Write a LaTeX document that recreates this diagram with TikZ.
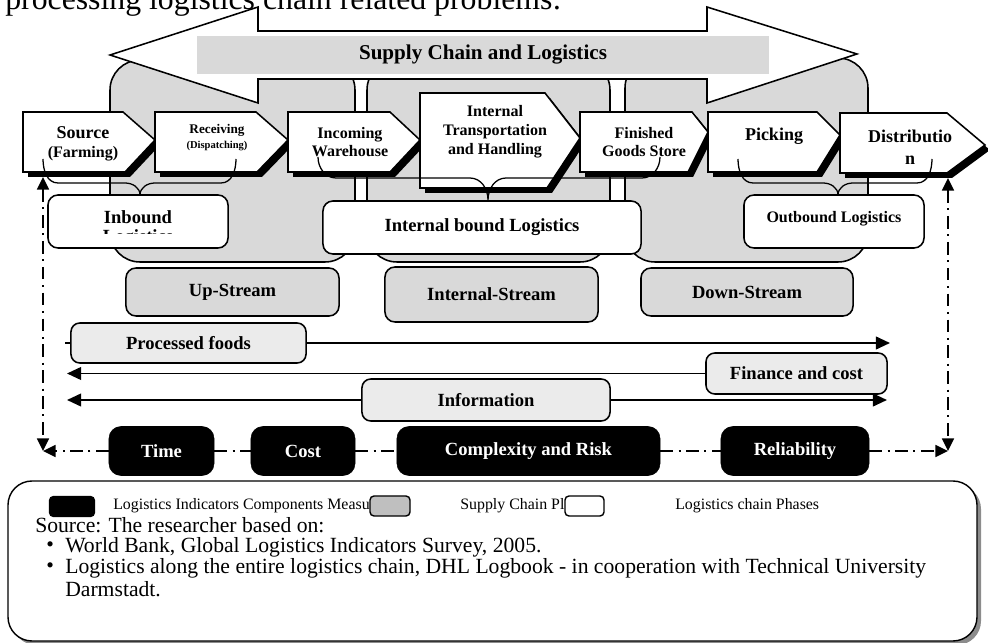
\documentclass[tikz,border=0pt]{standalone}
\usepackage{fontspec}
\setmainfont{Liberation Serif}
\usetikzlibrary{arrows.meta}

\begin{document}
\begin{tikzpicture}[x=0.025cm, y=-0.025cm,
  region/.style={fill=black!15, draw=black, line width=1.1pt, rounded corners=0.75cm},
  phase/.style={fill=white, draw=black, line width=1.1pt, line join=miter},
  phaseshadow/.style={fill=black},
  phasetext/.style={align=center, inner sep=0pt, font=\fontsize{11.4}{12.8}\selectfont\bfseries},
  brace/.style={line width=0.9pt},
  logbox/.style={draw=black, fill=white, line width=1.1pt, rounded corners=0.25cm, minimum height=1.325cm, font=\fontsize{13.2}{15}\selectfont\bfseries},
  streambox/.style={draw=black, fill=black!15, line width=1.1pt, rounded corners=0.25cm, minimum height=1.2cm, font=\fontsize{13.2}{15}\selectfont\bfseries},
  flowbox/.style={draw=black, fill=black!8, line width=1.1pt, rounded corners=0.22cm, minimum height=1.0cm, font=\fontsize{13.2}{15}\selectfont\bfseries},
  flow/.style={line width=1.4pt},
  indbox/.style={fill=black, draw=black, rounded corners=0.3cm, minimum height=1.225cm, text=white, font=\fontsize{13.2}{15}\selectfont\bfseries},
  indline/.style={line width=1.3pt, dash pattern=on 9pt off 4pt on 1.4pt off 4pt},
  legendtext/.style={anchor=west, inner sep=0pt, font=\fontsize{11.3}{13}\selectfont},
  sourcetext/.style={anchor=west, inner sep=0pt, font=\fontsize{15.4}{18}\selectfont},
  >={Triangle[length=10pt,width=9pt]}
]

\useasboundingbox (0,0) rectangle (988,643);
\clip (0,0) rectangle (988,643);

% text line above the picture, cut at the top
\node[anchor=base west, inner sep=0pt, font=\fontsize{22.6}{26}\selectfont] (toptext) at (5,10) {processing logistics chain related problems:};

% grey stream areas
\draw[region] (110,60) rectangle (355,262);
\draw[region] (367,60) rectangle (610,262);
\draw[region] (625,58) rectangle (868,262);

% double arrow of the whole chain
\draw[fill=white, line width=1.1pt, line join=miter] (110,55) -- (258,7) -- (258,31) -- (707,31) -- (707,7) -- (857,54) -- (707,103) -- (707,79) -- (258,79) -- (258,103) -- cycle;
\node[fill=black!15, minimum width=14.3cm, minimum height=0.95cm, font=\fontsize{15}{18}\selectfont\bfseries] (title) at (483,55) {Supply Chain and Logistics};

% logistics chain phases
\fill[phaseshadow, shift={(5,5)}] (23,112) -- (123,112) -- (155,140) -- (125,172) -- (23,172) -- cycle;
\draw[phase] (23,112) -- (123,112) -- (155,140) -- (125,172) -- (23,172) -- cycle;
\fill[phaseshadow, shift={(5,5)}] (155,112) -- (256,112) -- (288,140) -- (257,172) -- (155,172) -- cycle;
\draw[phase] (155,112) -- (256,112) -- (288,140) -- (257,172) -- (155,172) -- cycle;
\fill[phaseshadow, shift={(5,5)}] (288,112) -- (390,112) -- (420,140) -- (390,172) -- (288,172) -- cycle;
\draw[phase] (288,112) -- (390,112) -- (420,140) -- (390,172) -- (288,172) -- cycle;
\fill[phaseshadow, shift={(5,5)}] (420,93) -- (545,93) -- (580,138) -- (547,188) -- (420,188) -- cycle;
\draw[phase] (420,93) -- (545,93) -- (580,138) -- (547,188) -- (420,188) -- cycle;
\fill[phaseshadow, shift={(5,5)}] (580,112) -- (692,112) -- (708,132) -- (688,172) -- (580,172) -- cycle;
\draw[phase] (580,112) -- (692,112) -- (708,132) -- (688,172) -- (580,172) -- cycle;
\fill[phaseshadow, shift={(5,5)}] (708,112) -- (817,112) -- (840,135) -- (817,172) -- (708,172) -- cycle;
\draw[phase] (708,112) -- (817,112) -- (840,135) -- (817,172) -- (708,172) -- cycle;
\fill[phaseshadow, shift={(5,5)}] (840,113) -- (947,113) -- (985,145) -- (947,173) -- (840,173) -- cycle;
\draw[phase] (840,113) -- (947,113) -- (985,145) -- (947,173) -- (840,173) -- cycle;

\node[phasetext, font=\fontsize{12.8}{13.5}\selectfont\bfseries] (source) at (83,144) {Source\\{\fontsize{11.4}{13.5}\selectfont(Farming)}};
\node[phasetext, font=\fontsize{9.4}{10.7}\selectfont\bfseries] (receiving) at (217,138) {Receiving\\{\fontsize{7.5}{10.7}\selectfont(Dispatching)}};
\node[phasetext] (incoming) at (350,142) {Incoming\\Warehouse};
\node[phasetext, font=\fontsize{11.4}{13.5}\selectfont\bfseries] (transport) at (495,132) {Internal\\Transportation\\and Handling};
\node[phasetext] (finished) at (644,142) {Finished\\Goods Store};
\node[phasetext, font=\fontsize{12.8}{15}\selectfont\bfseries] (picking) at (774,136) {Picking};
\node[phasetext, font=\fontsize{12.8}{15.5}\selectfont\bfseries] (distribution) at (910,147) {Distributio\\n};

% braces from the phases to the logistics boxes
\draw[brace] (43,159) to[out=-90,in=180] (58,183) -- (125,183) to[out=0,in=90] (140,195) to[out=90,in=180] (155,183) -- (221,183) to[out=0,in=-90] (236,159);
\draw[brace] (318,157) to[out=-90,in=180] (336,178) -- (470,178) to[out=0,in=90] (488,200) to[out=90,in=180] (506,178) -- (642,178) to[out=0,in=-90] (660,157);
\draw[brace] (738,159) to[out=-90,in=180] (753,183) -- (823,183) to[out=0,in=90] (838,195) to[out=90,in=180] (853,183) -- (917,183) to[out=0,in=-90] (932,159);

% logistics boxes
\node[logbox, minimum width=4.5cm] (inbound) at (138,221.5) {};
\begin{scope}
\clip (50,197) rectangle (226,234);
\node[align=center, font=\fontsize{13.2}{13.5}\selectfont\bfseries] (inbound text) at (138,229) {Inbound\\Logistics};
\end{scope}
\node[logbox, minimum width=7.95cm] (internal) at (482,227.5) {Internal bound Logistics};
\node[logbox, minimum width=4.5cm, font=\fontsize{11.4}{13}\selectfont\bfseries, text depth=6pt] (outbound) at (834,221.5) {Outbound Logistics};

% supply chain phases
\node[streambox, minimum width=5.325cm] (upstream) at (232.5,292) {Up-Stream};
\node[streambox, minimum width=5.325cm, minimum height=1.375cm] (intstream) at (491.5,294.5) {Internal-Stream};
\node[streambox, minimum width=5.3cm] (downstream) at (747,292) {Down-Stream};

% flows
\coordinate (foods tail) at (65,343);
\coordinate (foods tip) at (890,343);
\coordinate (cost tip) at (67,373.5);
\coordinate (info left) at (67,400);
\coordinate (info right) at (887,400);
\draw[flow, ->] (foods tail) -- (foods tip);
\draw[flow, <->] (info left) -- (info right);
\node[flowbox, minimum width=5.875cm] (foods) at (188.5,343) {Processed foods};
\node[flowbox, minimum width=4.525cm, minimum height=1.025cm] (finance) at (796.5,373.5) {Finance and cost};
\draw[flow, ->] (finance.west) -- (cost tip);
\node[flowbox, minimum width=6.2cm, minimum height=1.05cm] (information) at (486,400) {Information};

% logistics indicators
\node[indbox, minimum width=2.625cm] (time) at (161.5,451) {Time};
\node[indbox, minimum width=2.6cm] (cost) at (303,451) {Cost};
\node[indbox, minimum width=6.575cm] (complexity) at (528.5,451) {Complexity and Risk};
\node[indbox, minimum width=3.7cm] (reliability) at (795,451) {Reliability};

\coordinate (left top) at (43,177);
\coordinate (left corner) at (43,451);
\coordinate (right top) at (948,178);
\coordinate (right corner) at (948,451);
\draw[indline, <->, >={Triangle[length=9pt,width=8.5pt]}] (left top) -- (left corner);
\draw[indline, <->, >={Triangle[length=9pt,width=8.5pt]}] (right top) -- (right corner);
\draw[indline, ->, >={Triangle[length=9pt,width=8.5pt]}] (time) -- (left corner);
\draw[indline, ->, >={Triangle[length=9pt,width=8.5pt]}] (reliability) -- (right corner);
\draw[indline] (time) -- (cost);
\draw[indline] (cost) -- (complexity);
\draw[indline] (complexity) -- (reliability);

% legend and source
\fill[black!45, rounded corners=0.6cm] (12,485) rectangle (981,645);
\draw[fill=white, line width=1pt, rounded corners=0.6cm] (8,481) rectangle (977,641);
\node[legendtext] (ind label) at (113,506) {Logistics Indicators Components Measu};
\node[legendtext] (sc label) at (460,506) {Supply Chain Pl};
\node[legendtext] (lc label) at (675,506) {Logistics chain Phases};
\node[fill=black, rounded corners=0.1cm, minimum width=1.15cm, minimum height=0.525cm] (ind key) at (72,506.5) {};
\node[draw, fill=black!25, line width=1pt, rounded corners=0.1cm, minimum width=1.0cm, minimum height=0.5cm] (sc key) at (390,506) {};
\node[draw, fill=white, line width=1pt, rounded corners=0.1cm, minimum width=0.975cm, minimum height=0.5cm] (lc key) at (584.5,506) {};
\node[sourcetext] (src) at (35,525) {Source: The researcher based on:};
\node[sourcetext] (bullet one) at (46,547) {\textbullet};
\node[sourcetext] (ref one) at (65,547) {World Bank, Global Logistics Indicators Survey, 2005.};
\node[sourcetext] (bullet two) at (46,568) {\textbullet};
\node[sourcetext] (ref two) at (65,568) {Logistics along the entire logistics chain, DHL Logbook - in cooperation with Technical University};
\node[sourcetext] (ref two b) at (65,589) {Darmstadt.};

\end{tikzpicture}
\end{document}
